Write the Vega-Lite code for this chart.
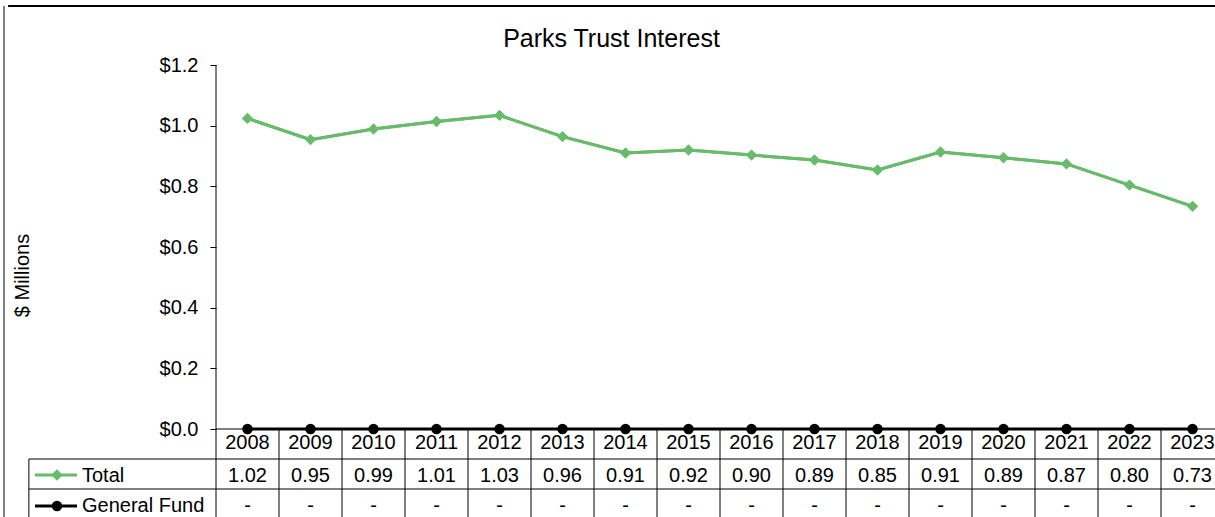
{
  "$schema": "https://vega.github.io/schema/vega-lite/v6.json",
  "width": 1215,
  "height": 517,
  "autosize": {"type": "none"},
  "padding": 0,
  "background": "white",
  "config": {"view": {"stroke": null}, "font": "Liberation Sans"},
  "title": {"text": "Parks Trust Interest", "fontSize": 25, "fontWeight": "normal", "font": "Liberation Sans", "color": "black", "anchor": "middle", "frame": "group", "offset": -72, "baseline": "alphabetic", "dx": 4},
  "datasets": {
    "years": [
      {"year": "2008", "total": 1.024, "gf": 0},
      {"year": "2009", "total": 0.954, "gf": 0},
      {"year": "2010", "total": 0.989, "gf": 0},
      {"year": "2011", "total": 1.014, "gf": 0},
      {"year": "2012", "total": 1.034, "gf": 0},
      {"year": "2013", "total": 0.964, "gf": 0},
      {"year": "2014", "total": 0.910, "gf": 0},
      {"year": "2015", "total": 0.920, "gf": 0},
      {"year": "2016", "total": 0.903, "gf": 0},
      {"year": "2017", "total": 0.887, "gf": 0},
      {"year": "2018", "total": 0.854, "gf": 0},
      {"year": "2019", "total": 0.913, "gf": 0},
      {"year": "2020", "total": 0.894, "gf": 0},
      {"year": "2021", "total": 0.874, "gf": 0},
      {"year": "2022", "total": 0.804, "gf": 0},
      {"year": "2023", "total": 0.734, "gf": 0}
    ],
    "total": [{"series": "Total"}],
    "gf": [{"series": "General Fund"}]
  },
  "data": {"name": "years"},
  "layer": [
    {
      "mark": {"type": "line", "color": "#67BB6A", "strokeWidth": 3},
      "encoding": {
        "x": {"field": "year", "type": "ordinal", "axis": null,
              "scale": {"type": "band", "domain": ["p1", "p2", "p3", "2008", "2009", "2010", "2011", "2012", "2013", "2014", "2015", "2016", "2017", "2018", "2019", "2020", "2021", "2022", "2023"], "range": [27, 1224], "paddingInner": 0, "paddingOuter": 0}},
        "y": {"field": "total", "type": "quantitative",
              "scale": {"domain": [-0.2901, 1.4143], "nice": false, "zero": false},
              "axis": {"values": [0, 0.2, 0.4, 0.6, 0.8, 1.0, 1.2], "format": "$.1f", "offset": -216, "domain": false, "grid": false, "ticks": true, "tickSize": 6, "tickColor": "black", "tickWidth": 1, "labelFontSize": 20, "labelColor": "black", "labelFont": "Liberation Sans", "labelPadding": 12, "title": "$ Millions", "titleFontSize": 20, "titleFontWeight": "normal", "titleColor": "black", "titleFont": "Liberation Sans", "titleX": -194, "titleY": 275, "titleAngle": -90, "titleBaseline": "middle", "titleAlign": "center"}}
      }
    },
    {
      "mark": {"type": "rule", "color": "black", "strokeWidth": 1},
      "encoding": {
        "x": {"field": "year", "type": "ordinal", "bandPosition": 0, "axis": null},
        "y": {"datum": 0, "type": "quantitative"},
        "y2": {"datum": -0.2901}
      }
    },
    {
      "data": {"name": "total"},
      "mark": {"type": "rule", "color": "black", "strokeWidth": 1},
      "encoding": {
        "x": {"datum": "2008", "type": "ordinal", "bandPosition": 0, "axis": null},
        "y": {"datum": 1.2, "type": "quantitative"},
        "y2": {"datum": 0}
      }
    },
    {
      "data": {"name": "total"},
      "mark": {"type": "rule", "color": "black", "strokeWidth": 1},
      "encoding": {
        "x": {"datum": "p1", "type": "ordinal", "bandPosition": 0.03, "axis": null},
        "y": {"datum": -0.0989, "type": "quantitative"},
        "y2": {"datum": -0.2901}
      }
    },
    {
      "data": {"name": "total"},
      "mark": {"type": "rule", "color": "black", "strokeWidth": 1},
      "encoding": {
        "x": {"datum": "2008", "type": "ordinal", "bandPosition": 0, "axis": null},
        "x2": {"datum": "2023", "bandPosition": 1},
        "y": {"datum": 0, "type": "quantitative"}
      }
    },
    {
      "data": {"name": "total"},
      "mark": {"type": "rule", "color": "black", "strokeWidth": 1},
      "encoding": {
        "x": {"datum": "p1", "type": "ordinal", "bandPosition": 0.03, "axis": null},
        "x2": {"datum": "2023", "bandPosition": 1},
        "y": {"datum": -0.0989, "type": "quantitative"}
      }
    },
    {
      "data": {"name": "total"},
      "mark": {"type": "rule", "color": "black", "strokeWidth": 1},
      "encoding": {
        "x": {"datum": "p1", "type": "ordinal", "bandPosition": 0.03, "axis": null},
        "x2": {"datum": "2023", "bandPosition": 1},
        "y": {"datum": -0.1978, "type": "quantitative"}
      }
    },
    {
      "mark": {"type": "line", "color": "black", "strokeWidth": 3},
      "encoding": {
        "x": {"field": "year", "type": "ordinal", "axis": null},
        "y": {"field": "gf", "type": "quantitative"}
      }
    },
    {
      "mark": {"type": "line", "color": "#67BB6A", "strokeWidth": 3},
      "encoding": {
        "x": {"field": "year", "type": "ordinal", "axis": null},
        "y": {"field": "total", "type": "quantitative"}
      }
    },
    {
      "mark": {"type": "point", "shape": "diamond", "filled": true, "color": "#67BB6A", "opacity": 1, "size": 130},
      "encoding": {
        "x": {"field": "year", "type": "ordinal", "axis": null},
        "y": {"field": "total", "type": "quantitative"}
      }
    },
    {
      "mark": {"type": "point", "shape": "circle", "filled": true, "color": "black", "opacity": 1, "size": 110},
      "encoding": {
        "x": {"field": "year", "type": "ordinal", "axis": null},
        "y": {"field": "gf", "type": "quantitative"}
      }
    },
    {
      "mark": {"type": "text", "fontSize": 20, "font": "Liberation Sans", "color": "black", "align": "center", "baseline": "alphabetic"},
      "encoding": {
        "x": {"field": "year", "type": "ordinal", "axis": null},
        "y": {"datum": -0.0659, "type": "quantitative"},
        "text": {"field": "year"}
      }
    },
    {
      "mark": {"type": "text", "fontSize": 20, "font": "Liberation Sans", "color": "black", "align": "center", "baseline": "alphabetic"},
      "encoding": {
        "x": {"field": "year", "type": "ordinal", "axis": null},
        "y": {"datum": -0.1747, "type": "quantitative"},
        "text": {"field": "total", "format": ".2f"}
      }
    },
    {
      "mark": {"type": "text", "fontSize": 20, "font": "Liberation Sans", "color": "black", "align": "center", "baseline": "alphabetic", "text": "-"},
      "encoding": {
        "x": {"field": "year", "type": "ordinal", "axis": null},
        "y": {"datum": -0.2736, "type": "quantitative"}
      }
    },
    {
      "data": {"name": "total"},
      "mark": {"type": "rule", "color": "#67BB6A", "strokeWidth": 3},
      "encoding": {
        "x": {"datum": "p1", "type": "ordinal", "bandPosition": 0.127, "axis": null},
        "x2": {"datum": "p1", "bandPosition": 0.794},
        "y": {"datum": -0.1517, "type": "quantitative"}
      }
    },
    {
      "data": {"name": "total"},
      "mark": {"type": "point", "shape": "diamond", "filled": true, "color": "#67BB6A", "opacity": 1, "size": 130},
      "encoding": {
        "x": {"datum": "p1", "type": "ordinal", "bandPosition": 0.476, "axis": null},
        "y": {"datum": -0.1517, "type": "quantitative"}
      }
    },
    {
      "data": {"name": "gf"},
      "mark": {"type": "rule", "color": "black", "strokeWidth": 3},
      "encoding": {
        "x": {"datum": "p1", "type": "ordinal", "bandPosition": 0.127, "axis": null},
        "x2": {"datum": "p1", "bandPosition": 0.794},
        "y": {"datum": -0.2538, "type": "quantitative"}
      }
    },
    {
      "data": {"name": "gf"},
      "mark": {"type": "point", "shape": "circle", "filled": true, "color": "black", "opacity": 1, "size": 110},
      "encoding": {
        "x": {"datum": "p1", "type": "ordinal", "bandPosition": 0.476, "axis": null},
        "y": {"datum": -0.2538, "type": "quantitative"}
      }
    },
    {
      "data": {"name": "total"},
      "mark": {"type": "text", "fontSize": 20, "font": "Liberation Sans", "color": "black", "align": "left", "baseline": "alphabetic"},
      "encoding": {
        "x": {"datum": "p1", "type": "ordinal", "bandPosition": 0.873, "axis": null},
        "y": {"datum": -0.1747, "type": "quantitative"},
        "text": {"field": "series"}
      }
    },
    {
      "data": {"name": "gf"},
      "mark": {"type": "text", "fontSize": 20, "font": "Liberation Sans", "color": "black", "align": "left", "baseline": "alphabetic"},
      "encoding": {
        "x": {"datum": "p1", "type": "ordinal", "bandPosition": 0.873, "axis": null},
        "y": {"datum": -0.2736, "type": "quantitative"},
        "text": {"field": "series"}
      }
    },
    {
      "data": {"name": "total"},
      "mark": {"type": "rule", "color": "black", "strokeWidth": 2},
      "encoding": {
        "x": {"datum": "p1", "type": "ordinal", "bandPosition": -0.3, "axis": null},
        "x2": {"datum": "2023", "bandPosition": 1},
        "y": {"datum": 1.3945, "type": "quantitative"}
      }
    },
    {
      "data": {"name": "total"},
      "mark": {"type": "rule", "color": "#808080", "strokeWidth": 2},
      "encoding": {
        "x": {"datum": "p1", "type": "ordinal", "bandPosition": -0.365, "axis": null},
        "y": {"datum": 1.3945, "type": "quantitative"},
        "y2": {"datum": -0.2901}
      }
    }
  ]
}
